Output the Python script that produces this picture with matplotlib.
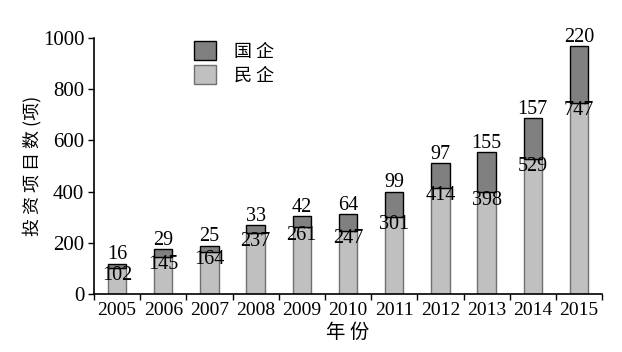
import matplotlib
matplotlib.use('Agg')
import numpy as np
import matplotlib.pyplot as plt
from matplotlib.ticker import FixedLocator

years = ['2005', '2006', '2007', '2008', '2009', '2010', '2011', '2012', '2013', '2014', '2015']
minqi = [102, 145, 164, 237, 261, 247, 301, 414, 398, 529, 747]   # 民企
guoqi = [16, 29, 25, 33, 42, 64, 99, 97, 155, 157, 220]           # 国企

plt.rcParams['font.family'] = ['Liberation Serif', 'Noto Sans CJK SC']
cjk = ['Noto Sans CJK SC', 'DejaVu Sans']

fig = plt.figure(figsize=(6.22, 3.52), dpi=100)
ax = fig.add_axes([0.151, 0.165, 0.817, 0.727])

x = np.arange(len(years))
w = 0.4
light = '#c0c0c0'
dark = '#808080'

ax.bar(x, minqi, w, color=light, edgecolor='#707070', linewidth=1, label='民企', zorder=2)
ax.bar(x, guoqi, w, bottom=minqi, color=dark, edgecolor='black', linewidth=1, label='国企', zorder=2)

for i in range(len(years)):
    ax.text(x[i], minqi[i] + guoqi[i] - 3, str(guoqi[i]), ha='center', va='bottom', fontsize=14.5)
    ax.text(x[i], minqi[i] + 6, str(minqi[i]), ha='center', va='top', fontsize=14.5)

ax.set_xlim(-0.5, len(years) - 0.5)
ax.set_ylim(0, 1000)
ax.set_yticks([0, 200, 400, 600, 800, 1000])
ax.set_xticks(x)
ax.set_xticklabels(years)
ax.xaxis.set_minor_locator(FixedLocator(np.arange(-0.5, len(years), 1)))
ax.tick_params(axis='x', which='major', length=0, labelsize=14, pad=6)
ax.tick_params(axis='x', which='minor', length=4, direction='out', width=1)
ax.tick_params(axis='y', length=4, direction='out', width=1, labelsize=15, pad=3)

for s in ['top', 'right']:
    ax.spines[s].set_visible(False)
for s in ['left', 'bottom']:
    ax.spines[s].set_linewidth(1.2)

ax.set_ylabel('投 资 项 目 数 (项)', family=cjk, fontsize=13, labelpad=1)
ax.set_xlabel('年 份', family=cjk, fontsize=14, labelpad=2)

h, l = ax.get_legend_handles_labels()
ax.legend(h[::-1], ['国 企', '民 企'], loc='upper left', bbox_to_anchor=(0.165, 1.05), frameon=False,
          prop={'family': cjk, 'size': 13}, handlelength=1.2, handleheight=1.2,
          handletextpad=1.0, labelspacing=0.25)

fig.savefig('out.png', dpi=100)
